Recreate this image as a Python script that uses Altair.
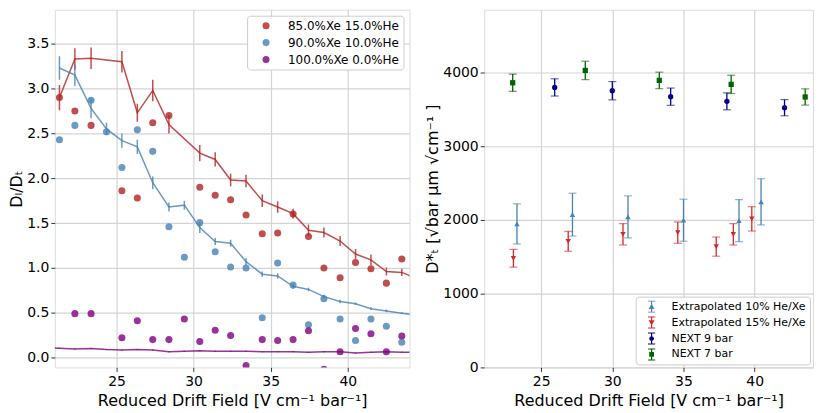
import altair as alt
import pandas as pd

FONT = "DejaVu Sans"

# ---------------- Left panel data (D_L / D_T) ----------------
series_left = ["85.0%Xe 15.0%He", "90.0%Xe 10.0%He", "100.0%Xe 0.0%He"]
colors_left = ["#b22222", "#4682b4", "#800080"]

red_line_x = [21.3, 22.3, 23.35, 25.35, 26.35, 27.35, 28.4, 30.4, 31.4, 32.4, 33.4, 34.45,
              35.45, 36.45, 37.45, 38.45, 39.5, 40.5, 41.5, 42.5, 43.5, 44.5]
red_line_y = [2.90, 3.33, 3.34, 3.30, 2.73, 2.98, 2.60, 2.28, 2.21, 1.98, 1.97, 1.75,
              1.68, 1.605, 1.42, 1.395, 1.30, 1.155, 1.09, 0.96, 0.95, 0.88]
red_line_e = [0.14, 0.12, 0.12, 0.12, 0.10, 0.12, 0.10, 0.09, 0.08, 0.07, 0.07, 0.07,
              0.065, 0.055, 0.065, 0.055, 0.055, 0.055, 0.06, 0.045, 0.04, 0.04]

blue_line_x = [21.3, 22.3, 23.35, 24.35, 25.35, 26.35, 27.35, 28.4, 29.4, 30.4, 31.4, 32.4,
               33.4, 34.45, 35.45, 36.45, 37.45, 38.45, 39.5, 40.5, 41.5, 42.5, 43.5, 44.5]
blue_line_y = [3.23, 3.15, 2.78, 2.55, 2.42, 2.35, 1.95, 1.68, 1.70, 1.45, 1.295, 1.275,
               1.07, 0.93, 0.91, 0.795, 0.76, 0.68, 0.625, 0.60, 0.545, 0.52, 0.495, 0.47]
blue_line_e = [0.13, 0.12, 0.11, 0.07, 0.08, 0.08, 0.07, 0.05, 0.05, 0.06, 0.04, 0.04,
               0.04, 0.03, 0.03, 0.03, 0.02, 0.02, 0.02, 0.015, 0.015, 0.015, 0.01, 0.01]

purple_line_x = [20.3, 21.3, 22.3, 23.35, 24.35, 25.35, 26.35, 27.35, 28.4, 29.4, 30.4, 31.4,
                 32.4, 33.4, 34.45, 35.45, 36.45, 37.45, 38.45, 39.5, 40.5, 41.5, 42.5, 43.5, 44.5]
purple_line_y = [0.11, 0.105, 0.095, 0.10, 0.09, 0.085, 0.09, 0.085, 0.065, 0.07, 0.075, 0.07,
                 0.07, 0.07, 0.065, 0.065, 0.065, 0.06, 0.065, 0.065, 0.05, 0.06, 0.065, 0.06, 0.06]
purple_line_e = [0.005] * len(purple_line_x)

red_dot_x = [21.3, 22.3, 23.35, 25.35, 26.35, 27.35, 28.4, 30.4, 31.4, 32.4, 33.4, 34.45,
             35.45, 36.45, 37.45, 38.45, 39.5, 40.5, 41.5, 42.5, 43.5]
red_dot_y = [2.90, 2.75, 2.59, 1.86, 1.78, 2.62, 2.70, 1.90, 1.81, 1.76, 1.59, 1.38,
             1.39, 1.60, 1.35, 1.00, 0.89, 1.06, 0.99, 0.83, 1.10]

blue_dot_x = [21.3, 22.3, 23.35, 24.35, 25.35, 26.35, 27.35, 28.4, 29.4, 30.4, 31.4, 32.4,
              33.4, 34.45, 35.45, 36.45, 37.45, 38.45, 39.5, 40.5, 41.5, 42.5, 43.5]
blue_dot_y = [2.43, 2.59, 2.87, 2.52, 2.12, 2.54, 2.30, 1.46, 1.12, 1.505, 1.18, 1.01,
              1.00, 0.445, 1.055, 0.81, 0.365, 0.655, 0.43, 0.19, 0.43, 0.35, 0.17]

purple_dot_x = [22.3, 23.35, 25.35, 26.35, 27.35, 28.4, 29.4, 30.4, 31.4, 32.4, 33.4, 34.45,
                35.45, 36.45, 37.45, 38.45, 39.5, 40.5, 41.5, 42.5, 43.5]
purple_dot_y = [0.49, 0.49, 0.22, 0.41, 0.20, 0.20, 0.43, 0.18, 0.305, 0.245, -0.09, 0.20,
                0.19, 0.20, 0.30, -0.13, 0.065, 0.325, 0.265, 0.065, 0.24]

left_y_ticks = [0.0, 0.5, 1.0, 1.5, 2.0, 2.5, 3.0, 3.5]
x_ticks = [25, 30, 35, 40]

# ---------------- Right panel data (D_T*) ----------------
series_right = ["Extrapolated 10% He/Xe", "Extrapolated 15% He/Xe", "NEXT 9 bar", "NEXT 7 bar"]
colors_right = ["#4682b4", "#d62728", "#00008b", "#006400"]

ext10_x = [23.3, 27.2, 31.1, 35.0, 38.9, 40.45]
ext10_y = [1946, 2072, 2041, 1996, 1991, 2245]
ext10_e = [272, 290, 285, 285, 285, 313]

ext15_x = [23.05, 26.9, 30.75, 34.6, 37.3, 38.5, 39.8]
ext15_y = [1480, 1710, 1805, 1828, 1638, 1805, 2014]
ext15_e = [120, 135, 145, 145, 130, 145, 165]

next9_x = [25.95, 30.0, 34.1, 38.05, 42.1]
next9_y = [3797, 3752, 3671, 3608, 3522]
next9_e = [117, 124, 117, 115, 110]

next7_x = [23.0, 28.1, 33.3, 38.35, 43.55]
next7_y = [3860, 4027, 3892, 3838, 3667]
next7_e = [117, 125, 112, 124, 110]

right_y_ticks = [0, 1000, 2000, 3000, 4000]

X_TITLE = "Reduced Drift Field [V cm⁻¹ bar⁻¹]"
LEFT_Y_TITLE = "Dₗ/Dₜ"
RIGHT_Y_TITLE = "D*ₜ [√bar μm √cm⁻¹ ]"


def axis(values, fmt, lpad=3, tpad=4):
    return alt.Axis(values=values, format=fmt, grid=True, gridColor="#d4d4d4", gridWidth=1.2,
                    domain=False, ticks=True, tickColor="#333333", tickSize=4, tickWidth=1,
                    labelFont=FONT, labelFontSize=14, labelColor="black", labelPadding=lpad,
                    labelOverlap=False, labelFlush=False,
                    titleFont=FONT, titleFontSize=16, titleFontWeight="normal",
                    titleColor="black", titlePadding=tpad)


# ---------------- Left chart ----------------
lx_scale = alt.Scale(domain=[21, 44], nice=False, zero=False)
ly_scale = alt.Scale(domain=[-0.11, 3.88], nice=False, zero=False)


def LX(field="x"):
    return alt.X(f"{field}:Q", scale=lx_scale, axis=axis(x_ticks, "d"), title=X_TITLE)


def LY(field="y"):
    return alt.Y(f"{field}:Q", scale=ly_scale, axis=axis(left_y_ticks, ".1f", 2, 2),
                 title=LEFT_Y_TITLE)


left_layers = []
line_sets = [(red_line_x, red_line_y, red_line_e), (blue_line_x, blue_line_y, blue_line_e),
             (purple_line_x, purple_line_y, purple_line_e)]
for (xs, ys, es), col in zip(line_sets, colors_left):
    df = pd.DataFrame({"x": xs, "y": ys,
                       "lo": [y - e for y, e in zip(ys, es)],
                       "hi": [y + e for y, e in zip(ys, es)]})
    left_layers.append(alt.Chart(df).mark_line(color=col, strokeWidth=1.5, opacity=0.8, clip=True)
                       .encode(x=LX(), y=LY()))
    left_layers.append(alt.Chart(df).mark_rule(color=col, strokeWidth=1.5, opacity=0.8, clip=True)
                       .encode(x=LX(), y=LY("lo"), y2="hi:Q"))

dots = pd.concat([
    pd.DataFrame({"x": red_dot_x, "y": red_dot_y, "series": series_left[0]}),
    pd.DataFrame({"x": blue_dot_x, "y": blue_dot_y, "series": series_left[1]}),
    pd.DataFrame({"x": purple_dot_x, "y": purple_dot_y, "series": series_left[2]}),
])
left_layers.append(
    alt.Chart(dots).mark_circle(size=50, opacity=0.8, clip=True).encode(
        x=LX(), y=LY(),
        color=alt.Color("series:N", scale=alt.Scale(domain=series_left, range=colors_left),
                        sort=series_left,
                        legend=alt.Legend(title=None, orient="top-right", offset=6,
                                          labelFont=FONT, labelFontSize=12, labelColor="black",
                                          symbolType="circle", symbolSize=50, symbolOpacity=0.8,
                                          fillColor="white", strokeColor="#cccccc", cornerRadius=3,
                                          padding=4, rowPadding=5, symbolOffset=9, labelOffset=16,
                                          labelLimit=300)))
)

left = alt.layer(*left_layers).properties(width=356, height=359)

# ---------------- Right chart ----------------
rx_scale = alt.Scale(domain=[21, 44.1], nice=False, zero=False)
ry_scale = alt.Scale(domain=[0, 4850], nice=False, zero=False)


def RX(field="x"):
    return alt.X(f"{field}:Q", scale=rx_scale, axis=axis(x_ticks, "d"), title=X_TITLE)


def RY(field="y"):
    return alt.Y(f"{field}:Q", scale=ry_scale, axis=axis(right_y_ticks, "d", 2, 2),
                 title=RIGHT_Y_TITLE)


right_sets = [(ext10_x, ext10_y, ext10_e, "triangle-up", 30),
              (ext15_x, ext15_y, ext15_e, "triangle-down", 30),
              (next9_x, next9_y, next9_e, "circle", 28),
              (next7_x, next7_y, next7_e, "square", 28)]
right_layers = []
for (xs, ys, es, shp, sz), col in zip(right_sets, colors_right):
    df = pd.DataFrame({"x": xs, "y": ys,
                       "lo": [y - e for y, e in zip(ys, es)],
                       "hi": [y + e for y, e in zip(ys, es)]})
    right_layers.append(alt.Chart(df).mark_rule(color=col, strokeWidth=1.3)
                        .encode(x=RX(), y=RY("lo"), y2="hi:Q"))
    for f in ["lo", "hi"]:
        right_layers.append(alt.Chart(df).mark_tick(color=col, orient="horizontal", size=8,
                                                    thickness=1.2, opacity=0.6)
                            .encode(x=RX(), y=RY(f)))
    right_layers.append(alt.Chart(df).mark_point(color=col, filled=True, shape=shp, size=sz,
                                                 opacity=1).encode(x=RX(), y=RY()))

# legend glyphs: marker with error bar and caps (unit-square SVG paths)
BAR = "M-0.1,-1H0.1V1H-0.1Z M-0.6,-1H0.6V-0.84H-0.6Z M-0.6,0.84H0.6V1H-0.6Z "
glyphs = [BAR + "M0,-0.5L0.5,0.4H-0.5Z",
          BAR + "M0,0.5L-0.5,-0.4H0.5Z",
          BAR + "M-0.4,0A0.4,0.4 0 1,1 0.4,0A0.4,0.4 0 1,1 -0.4,0Z",
          BAR + "M-0.4,-0.4H0.4V0.4H-0.4Z"]
leg_df = pd.DataFrame({"x": [ext10_x[0], ext15_x[0], next9_x[0], next7_x[0]],
                       "y": [ext10_y[0], ext15_y[0], next9_y[0], next7_y[0]],
                       "series": series_right})
right_legend = alt.Legend(title=None, orient="bottom-right", offset=3,
                          labelFont=FONT, labelFontSize=11, labelColor="black",
                          symbolSize=144, symbolOpacity=1, symbolStrokeWidth=0,
                          fillColor="white", strokeColor="#cccccc", cornerRadius=3,
                          padding=4, rowPadding=4, symbolOffset=6, labelOffset=14, labelLimit=300)
right_layers.append(
    alt.Chart(leg_df).mark_point(filled=True, opacity=0, size=144).encode(
        x=RX(), y=RY(),
        color=alt.Color("series:N", scale=alt.Scale(domain=series_right, range=colors_right),
                        sort=series_right, legend=right_legend),
        shape=alt.Shape("series:N", scale=alt.Scale(domain=series_right, range=glyphs),
                        sort=series_right, legend=right_legend))
)

right = alt.layer(*right_layers).properties(width=330, height=359)

chart = (alt.hconcat(left, right, spacing=13)
         .resolve_scale(color="independent", shape="independent")
         .properties(padding=0)
         .configure_view(stroke="#333333", strokeWidth=1)
         .configure(background="white"))

chart.save("out.html", embed_options={"renderer": "svg", "actions": False})
